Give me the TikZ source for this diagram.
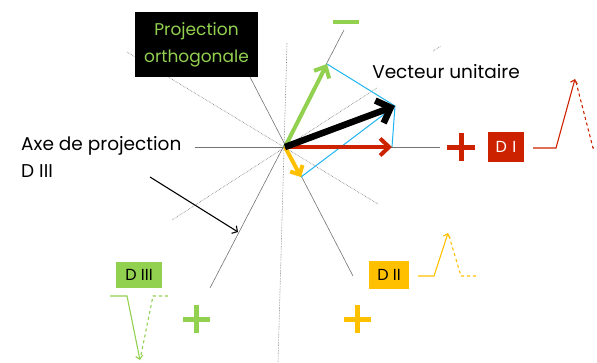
\documentclass[tikz,border=0pt]{standalone}
\usepackage{fontspec}
\setmainfont{Poppins}
\usetikzlibrary{arrows.meta}
\definecolor{dired}{RGB}{204,34,0}
\definecolor{digreen}{RGB}{146,208,80}
\definecolor{digold}{RGB}{255,192,0}
\definecolor{disky}{RGB}{30,180,240}

\begin{document}
\begin{tikzpicture}[
  x=1pt, y=-1pt,
  font=\fontsize{18.5}{27}\selectfont,
  axis/.style={black!55, line width=0.6pt},
  dotaxis/.style={axis, densely dotted},
  vec/.style={line width=4pt, -{Straight Barb[length=9pt, width=17pt]}},
  proj/.style={disky, line width=1pt},
  tag/.style={inner sep=0pt, font=\fontsize{16}{18}\selectfont},
  plus/.style={line width=5pt},
  sig/.style={line width=1.1pt},
  sigtip/.style={sig, -{Straight Barb[length=3.5pt, width=7pt]}}
]
\useasboundingbox (0,0) rectangle (597,362);

% axes of projection through the origin
\coordinate (O) at (285,147);
\coordinate (h1) at (195,147);  \coordinate (h2) at (440,147);
\coordinate (v1) at (287,43);   \coordinate (v2) at (278,362);
\coordinate (a1) at (127,52);   \coordinate (a2) at (378,204);
\coordinate (b1) at (250,77);   \coordinate (b2) at (353,276);
\coordinate (c1) at (344,30);   \coordinate (c2) at (210,288);
\coordinate (d1) at (172,220);  \coordinate (d2) at (377,88);
\coordinate (d3) at (433,51);   \coordinate (d4) at (441,46);
\draw[axis] (h1) -- (h2);
\draw[dotaxis] (v1) -- (v2);
\draw[dotaxis] (a1) -- (a2);
\draw[axis] (b1) -- (b2);
\draw[axis] (c1) -- (c2);
\draw[dotaxis] (d1) -- (d2);
\draw[dotaxis] (d3) -- (d4);

% vectors and their projections
\coordinate (tipR) at (392,147);
\coordinate (tipK) at (395,106);
\coordinate (tipG) at (327,64);
\coordinate (tipY) at (301,177);
\draw[proj] (tipG) -- (tipK) -- (tipR);
\draw[proj] (tipK) -- (tipY);
\draw[vec, digreen] (O) -- (tipG);
\draw[vec, digold, -{Straight Barb[length=7pt, width=14pt]}] (O) -- (tipY);
\draw[vec, dired] (O) -- (tipR);
\draw[vec, line width=6.5pt, -{Straight Barb[length=12pt, width=24pt]}] (O) -- (tipK);

% labels
\node[fill=black, text=digreen, align=center, minimum width=123pt, minimum height=65pt,
  font=\fontsize{17}{27}\selectfont] (po) at (196.5,44.5) {Projection\\orthogonale};
\draw[digreen, line width=4pt] (333,22) -- (359,22);
\node (vu) at (446,72) {Vecteur unitaire};
\node[align=left, anchor=west, inner sep=2pt] (axe) at (19,157) {Axe de projection\\D III};
\coordinate (p1) at (150,177);
\coordinate (p2) at (238,232);
\draw[line width=1.1pt, -{Straight Barb[length=4pt, width=9pt]}] (p1) -- (p2);

% D I
\node[tag, fill=dired, text=white, minimum width=36pt, minimum height=30pt] (d1box) at (506,147) {D\,\,I};
\draw[dired, plus] (447,147) -- (475,147) (461,133) -- (461,161);
\draw[sigtip, dired] (533,148) -- (556,148) -- (575,79);
\draw[sig, dired, dashed] (576,82) -- (593,148) -- (597,148);

% D II
\node[tag, fill=digold, minimum width=40pt, minimum height=28pt] (d2box) at (389,275) {D II};
\draw[digold, plus] (344,319) -- (371,319) (357.5,305) -- (357.5,333);
\draw[sigtip, digold] (418,276) -- (434,276) -- (448,233);
\draw[sig, digold, dashed] (449,236) -- (461,276) -- (478,276);

% D III
\node[tag, fill=digreen, minimum width=46pt, minimum height=26pt] (d3box) at (139,275) {D III};
\draw[digreen, plus] (183,319) -- (210,319) (196.5,305) -- (196.5,333);
\draw[sigtip, digreen] (110,296) -- (127,296) -- (140,360);
\draw[sig, digreen, dashed] (141,355) -- (153,296) -- (170,296);
\end{tikzpicture}
\end{document}
